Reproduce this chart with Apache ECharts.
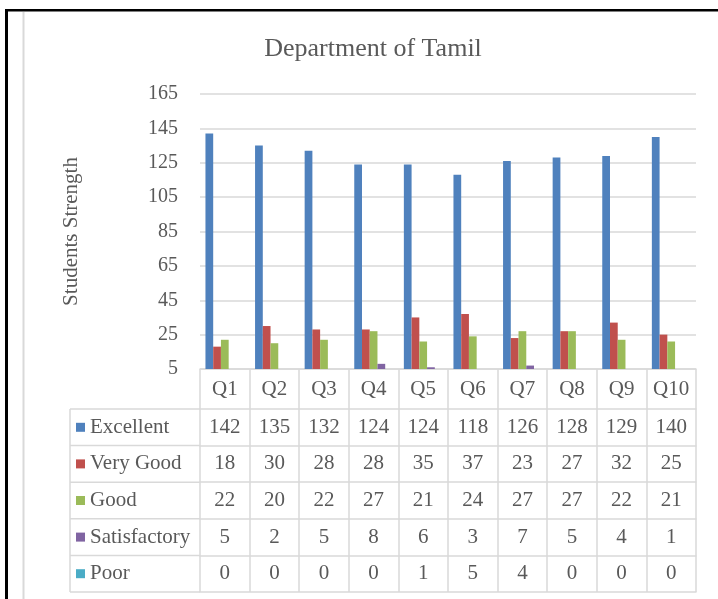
<!DOCTYPE html>
<html>
<head>
<meta charset="utf-8">
<script src="https://cdn.jsdelivr.net/npm/echarts@6/dist/echarts.min.js"></script>
<style>html,body{margin:0;padding:0;background:#fff}#c{width:718px;height:599px}</style>
</head>
<body>
<div id="c"></div>
<script>
// ---- data ----
const categories = ['Q1','Q2','Q3','Q4','Q5','Q6','Q7','Q8','Q9','Q10'];
const seriesNames = ['Excellent','Very Good','Good','Satisfactory','Poor'];
const excellent    = [142,135,132,124,124,118,126,128,129,140];
const veryGood     = [18,30,28,28,35,37,23,27,32,25];
const good         = [22,20,22,27,21,24,27,27,22,21];
const satisfactory = [5,2,5,8,6,3,7,5,4,1];
const poor         = [0,0,0,0,1,5,4,0,0,0];
const yMin = 5, yMax = 165, yStep = 20;

// ---- style / layout ----
const colors = ['#4F81BD','#C0504D','#9BBB59','#8064A2','#4BACC6'];
const FONT = 'Liberation Serif';
const TXT = '#595959';
const LINE = '#D9D9D9';
const gridTop = 94, gridBottomY = 369, gridLeft = 200, gridRight = 22;
const catRowH = 40, rowH = 36.6, headerLeft = 70;
const rows = [excellent, veryGood, good, satisfactory, poor];

const chart = echarts.init(document.getElementById('c'), null, {renderer: 'canvas'});

const xAxes = [{
  type: 'category', data: categories, position: 'bottom', gridIndex: 0,
  axisLine: {lineStyle: {color: LINE, width: 1.5}},
  axisTick: {show: true, interval: 0, length: catRowH, lineStyle: {color: LINE, width: 1.5}},
  axisLabel: {interval: 0, margin: catRowH / 2, verticalAlign: 'middle', fontFamily: FONT, fontSize: 21, color: TXT},
  splitLine: {show: false}
}];
rows.forEach((r, i) => {
  xAxes.push({
    type: 'category', data: categories, position: 'bottom', gridIndex: 0,
    offset: catRowH + i * rowH,
    axisLine: {lineStyle: {color: LINE, width: 1.5}},
    axisTick: {show: true, interval: 0, length: rowH, lineStyle: {color: LINE, width: 1.5}},
    axisLabel: {interval: 0, margin: rowH / 2, verticalAlign: 'middle', fontFamily: FONT, fontSize: 21, color: TXT,
      formatter: (v, idx) => String(r[idx])},
    splitLine: {show: false}
  });
});
xAxes.push({
  type: 'category', data: categories, position: 'bottom', gridIndex: 0,
  offset: catRowH + rows.length * rowH,
  axisLine: {lineStyle: {color: LINE, width: 1.5}},
  axisTick: {show: false}, axisLabel: {show: false}, splitLine: {show: false}
});

// header column borders of data table
const tableTop = gridBottomY + catRowH;
const graphics = [];
for (let i = 0; i <= rows.length; i++) {
  const y = tableTop + i * rowH;
  graphics.push({type: 'line', shape: {x1: headerLeft, y1: y, x2: gridLeft, y2: y}, style: {stroke: LINE, lineWidth: 1.5}, silent: true});
}
graphics.push({type: 'line', shape: {x1: headerLeft, y1: tableTop, x2: headerLeft, y2: tableTop + rows.length * rowH}, style: {stroke: LINE, lineWidth: 1.5}, silent: true});
// frame
graphics.push({type: 'line', shape: {x1: 23.5, y1: 12, x2: 23.5, y2: 599}, style: {stroke: LINE, lineWidth: 2}, silent: true});
graphics.push({type: 'rect', shape: {x: 5, y: 9, width: 3, height: 590}, style: {fill: '#000'}, silent: true});
graphics.push({type: 'rect', shape: {x: 5, y: 9, width: 713, height: 2.5}, style: {fill: '#000'}, silent: true});

chart.setOption({
  animation: false,
  backgroundColor: '#fff',
  color: colors,
  title: {
    text: 'Department of Tamil', left: 373, top: 36, textAlign: 'center', padding: 0,
    textStyle: {fontFamily: FONT, fontSize: 26, fontWeight: 'normal', color: TXT}
  },
  legend: {
    data: seriesNames, orient: 'vertical', left: 76, top: tableTop + (rowH - 22) / 2,
    itemWidth: 9, itemHeight: 9, itemGap: rowH - 22, icon: 'rect', padding: 0, selectedMode: false,
    textStyle: {fontFamily: FONT, fontSize: 21, color: TXT, lineHeight: 22}
  },
  grid: {left: gridLeft, right: gridRight, top: gridTop, bottom: 599 - gridBottomY, containLabel: false},
  xAxis: xAxes,
  yAxis: {
    type: 'value', min: yMin, max: yMax, interval: yStep,
    name: 'Students Strength', nameLocation: 'middle', nameGap: 118,
    nameTextStyle: {fontFamily: FONT, fontSize: 21, color: TXT},
    axisLine: {show: false}, axisTick: {show: false},
    axisLabel: {fontFamily: FONT, fontSize: 20, color: TXT, margin: 22},
    splitLine: {lineStyle: {color: LINE, width: 1.5}}
  },
  series: seriesNames.map((n, i) => ({
    name: n, type: 'bar', xAxisIndex: 0, yAxisIndex: 0, data: rows[i],
    barGap: '0%', barCategoryGap: '22%', clip: true
  })),
  graphic: graphics
});
</script>
</body>
</html>
